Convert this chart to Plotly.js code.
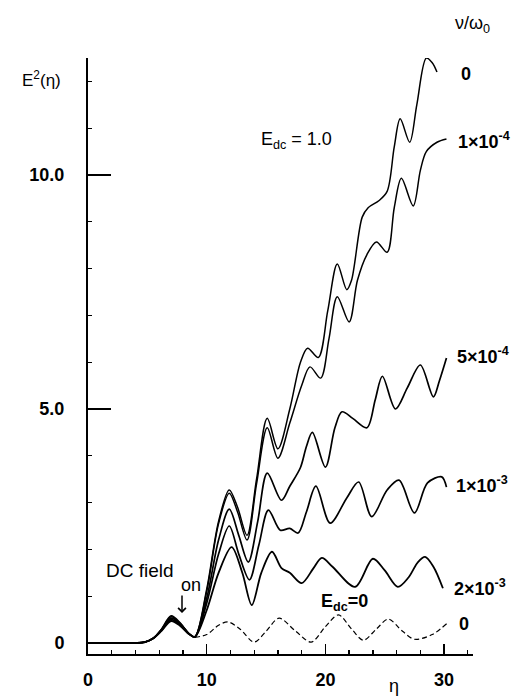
<!DOCTYPE html>
<html>
<head>
<meta charset="utf-8">
<script src="https://cdn.plot.ly/plotly-3.0.1.min.js"></script>
<style>html,body{margin:0;padding:0;background:#fff;}#chart{width:525px;height:697px;}</style>
</head>
<body>
<div id="chart"></div>
<script>
// ---- data ----
// E_dc = 1.0, nu/omega0 = 0
const nu0X = [0,4,4.8,5.5,6.2,7.0,7.8,8.5,9.0,10,11,11.9,12.6,13.4,14.2,15.1,16.0,17.0,17.9,18.5,19.4,20.2,21.0,21.8,22.2,23.1,23.6,24.5,25.2,25.8,26.3,27.1,27.7,28.5,29.0,29.4];
const nu0Y = [0,0,0.02,0.1,0.3,0.58,0.42,0.2,0.13,1.15,2.6,3.27,2.9,2.3,3.5,4.8,4.15,5.0,6.0,6.3,6.1,7.1,8.1,7.55,7.75,9.1,9.3,9.45,9.65,10.6,11.2,10.7,11.5,12.5,12.4,12.2];
// nu/omega0 = 1e-4
const nu1X = [0,4,4.8,5.5,6.2,7.0,7.8,8.5,9.0,10,11,11.9,12.6,13.4,14.2,15.1,16.0,17.0,18.0,18.7,19.6,20.3,21.0,22.0,22.7,23.5,24.3,25.2,25.8,26.4,27.4,28.0,28.5,29.4,30.2];
const nu1Y = [0,0,0.02,0.1,0.29,0.56,0.41,0.2,0.13,1.1,2.55,3.2,2.8,2.2,3.4,4.6,3.95,4.7,5.5,5.9,5.66,6.5,7.4,6.86,7.75,8.3,8.57,8.35,9.3,9.93,9.34,10.1,10.5,10.7,10.77];
// nu/omega0 = 5e-4
const nu5X = [0,4,4.8,5.5,6.2,7.0,7.8,8.5,9.0,10,11,11.9,12.7,13.5,14.3,15.1,16.3,17.0,17.9,18.4,18.9,20.0,20.8,21.4,22.3,23.5,24.2,24.8,25.9,26.9,28.0,29.1,29.6,30.2];
const nu5Y = [0,0,0.02,0.1,0.28,0.53,0.4,0.2,0.13,0.95,2.2,2.86,2.3,1.73,2.6,3.63,3.05,3.35,3.75,4.2,4.5,3.76,4.6,4.94,4.8,4.6,5.2,5.7,5.0,5.45,5.94,5.26,5.6,6.09];
// nu/omega0 = 1e-3
const nu10X = [0,4,4.8,5.5,6.2,7.0,7.8,8.5,9.0,10,11,11.9,12.7,13.6,14.4,15.2,16.2,17.0,17.7,18.4,19.2,20.4,21.8,22.8,23.9,25.2,26.2,27.5,28.6,29.8,30.2];
const nu10Y = [0,0,0.02,0.1,0.27,0.5,0.38,0.2,0.13,0.85,1.9,2.5,1.9,1.35,2.1,2.84,2.41,2.45,2.35,2.8,3.35,2.56,3.1,3.44,2.7,3.27,3.48,2.78,3.42,3.55,3.33];
// nu/omega0 = 2e-3
const nu20X = [0,4,4.8,5.5,6.2,7.0,7.8,8.5,9.0,10,11,12.1,13.0,13.8,14.6,15.5,16.3,17.0,18.0,19.0,19.7,20.6,22.5,24.0,25.0,26.1,27.0,27.8,28.4,29.1,29.9];
const nu20Y = [0,0,0.02,0.1,0.26,0.47,0.36,0.19,0.13,0.7,1.5,2.05,1.5,0.81,1.5,1.95,1.6,1.5,1.28,1.6,1.82,1.63,1.2,1.8,1.55,1.2,1.4,1.73,1.84,1.63,1.17];
// E_dc = 0
const dc0X = [9.0,10,11,11.8,12.8,14.0,15.0,16.1,17.5,18.8,20.0,21.1,22.2,23.2,24.3,25.3,26.5,27.5,29.0,30.3];
const dc0Y = [0.12,0.18,0.38,0.45,0.3,0.02,0.25,0.53,0.25,0.02,0.35,0.6,0.3,0.06,0.3,0.51,0.25,0.08,0.18,0.43];

const yTickVals = [0,5,10];
const yTickText = ['0','5.0','10.0'];
const xTickVals = [0,10,20,30];
const xTickText = ['0','10','20','30'];

// ---- layout helpers (pixel -> paper) ----
const L=88, R=52, T=58, B=43, W=525, H=697;
const pw = W-L-R, ph = H-T-B;
const px = p => (p-L)/pw;
const py = p => (H-B-p)/ph;
const FONT = 'Liberation Sans, Arial, sans-serif';

function solid(x,y,w){return {x:x,y:y,type:'scatter',mode:'lines',line:{color:'#000',width:w||1.5,shape:'spline',smoothing:0.9},hoverinfo:'skip',showlegend:false};}
const traces = [
  solid(nu0X,nu0Y,1.5), solid(nu1X,nu1Y,1.5), solid(nu5X,nu5Y,1.7),
  solid(nu10X,nu10Y,1.7), solid(nu20X,nu20Y,1.8),
  {x:dc0X,y:dc0Y,type:'scatter',mode:'lines',line:{color:'#000',width:1.2,dash:'5px,3px',shape:'spline',smoothing:0.9},hoverinfo:'skip',showlegend:false}
];

function ann(text,xp,yp,size,anchor,bold){
  return {text:bold?'<b>'+text+'</b>':text,xref:'paper',yref:'paper',x:px(xp),y:py(yp),showarrow:false,
    xanchor:anchor||'center',yanchor:'middle',font:{family:FONT,size:size||17,color:'#000'}};
}
const annotations = [
  ann('E<sup>2</sup>(η)',41,79,17),
  ann('ν/ω<sub>0</sub>',472,24,18),
  ann('0',466,74,18,'center',true),
  ann('1×10<sup>-4</sup>',456,140,18,'left',true),
  ann('E<sub>dc</sub> = 1.0',259,140,18,'left'),
  ann('5×10<sup>-4</sup>',455,355,18,'left',true),
  ann('1×10<sup>-3</sup>',454,484,18,'left',true),
  ann('2×10<sup>-3</sup>',452,587,18,'left',true),
  ann('E<sub>dc</sub>=0',319,602,18,'left',true),
  ann('0',464,624,18,'center',true),
  ann('DC field',140,570,19),
  ann('on',191,585,18),
  ann('η',394,686,18),
  {text:'',xref:'paper',yref:'paper',x:px(182),y:py(613),ax:0,ay:-19,axref:'pixel',ayref:'pixel',
   showarrow:true,arrowhead:4,arrowsize:1,arrowwidth:1.5,arrowcolor:'#000'}
];

const layout = {
  width:W, height:H,
  margin:{l:L,r:R,t:T,b:B,pad:0},
  paper_bgcolor:'#fff', plot_bgcolor:'#fff',
  showlegend:false,
  font:{family:FONT,color:'#000'},
  xaxis:{range:[0,pw/11.87],showgrid:false,zeroline:false,showline:true,linecolor:'#000',linewidth:2,
    tickmode:'array',tickvals:xTickVals,ticktext:xTickText.map(t=>'<b>'+t+'</b>'),ticks:'inside',ticklen:10,tickwidth:1.5,tickcolor:'#000',
    ticklabelstandoff:8,tickfont:{family:FONT,size:18,color:'#000'},
    minor:{dtick:2,tick0:0,ticks:'inside',ticklen:4,tickwidth:1.3,tickcolor:'#000',showgrid:false}},
  yaxis:{range:[-0.235,12.5],showgrid:false,zeroline:false,showline:true,linecolor:'#000',linewidth:2,
    tickmode:'array',tickvals:yTickVals,ticktext:yTickText.map(t=>'<b>'+t+'</b>'),ticks:'inside',ticklen:23,tickwidth:1.5,tickcolor:'#000',
    ticklabelstandoff:18,tickfont:{family:FONT,size:18,color:'#000'},
    minor:{dtick:1,tick0:0,ticks:'inside',ticklen:4,tickwidth:1.3,tickcolor:'#000',showgrid:false}},
  annotations:annotations
};
Plotly.newPlot('chart',traces,layout,{staticPlot:true,displayModeBar:false});
</script>
</body>
</html>
